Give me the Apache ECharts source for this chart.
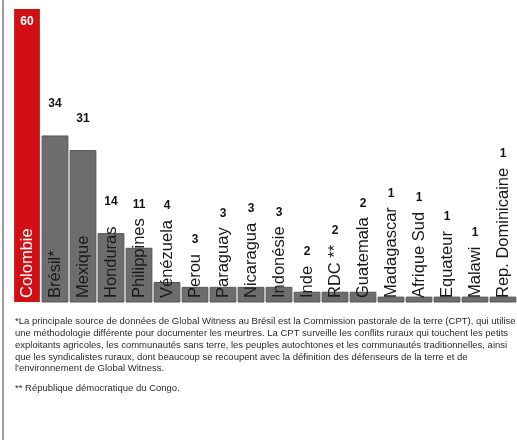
<!DOCTYPE html>
<html>
<head>
<meta charset="utf-8">
<script src="https://cdn.jsdelivr.net/npm/echarts@6/dist/echarts.min.js"></script>
<style>
  html, body { margin: 0; padding: 0; background: #fff; }
  #chart { width: 517px; height: 440px; }
</style>
</head>
<body>
<div id="chart"></div>
<script>
// Défenseurs de la terre et de l'environnement tués, par pays
const countries = [
  'Colombie', 'Brésil*', 'Mexique', 'Honduras', 'Philippines', 'Vénézuela',
  'Perou', 'Paraguay', 'Nicaragua', 'Indonésie', 'Inde', 'RDC **',
  'Guatemala', 'Madagascar', 'Afrique Sud', 'Equateur', 'Malawi', 'Rep. Dominicaine'
];
const killed = [60, 34, 31, 14, 11, 4, 3, 3, 3, 3, 2, 2, 2, 1, 1, 1, 1, 1];

const footnotes = [
  "*La principale source de données de Global Witness au Brésil est la Commission pastorale de la terre (CPT), qui utilise",
  "une méthodologie différente pour documenter les meurtres. La CPT surveille les conflits ruraux qui touchent les petits",
  "exploitants agricoles, les communautés sans terre, les peuples autochtones et les communautés traditionnelles, ainsi",
  "que les syndicalistes ruraux, dont beaucoup se recoupent avec la définition des défenseurs de la terre et de",
  "l'environnement de Global Witness."
];
const footnote2 = "** République démocratique du Congo.";

const NAME_FONT = '16.5px "Liberation Sans Narrow", "Liberation Sans", sans-serif';
const measureCtx = document.createElement('canvas').getContext('2d');
function textWidth(str, font) {
  measureCtx.font = font;
  return measureCtx.measureText(str).width;
}

const chart = echarts.init(document.getElementById('chart'), null, { renderer: 'canvas' });

function renderBar(params, api) {
  const i = api.value(0);
  const v = api.value(1);
  const top = api.coord([i, v]);
  const base = api.coord([i, 0]);
  const band = api.size([1, 0])[0];
  const w = band * 0.92;
  const isMax = i === 0;
  const name = countries[i];
  const nameW = textWidth(name, NAME_FONT);
  const nameTop = base[1] - 4 - nameW;
  let labelY, labelColor;
  if (isMax) {
    labelY = top[1] + 13;
    labelColor = '#fff';
  } else {
    // value sits above whichever is higher: the bar or its rotated name
    labelY = Math.min(top[1] - 32, nameTop - 14);
    labelColor = '#111';
  }
  return {
    type: 'group',
    children: [
      {
        type: 'rect',
        shape: { x: top[0] - w / 2, y: top[1], width: w, height: base[1] - top[1] },
        style: {
          fill: isMax ? '#d20f14' : '#6d6d6d',
          stroke: isMax ? '#c00d12' : '#555',
          lineWidth: isMax ? 0 : 1
        }
      },
      {
        type: 'text',
        x: top[0],
        y: base[1] - 4,
        rotation: Math.PI / 2,
        style: {
          text: name,
          font: NAME_FONT,
          fill: isMax ? '#fff' : '#1a1a1a',
          align: 'left',
          verticalAlign: 'middle'
        }
      },
      {
        type: 'text',
        x: top[0],
        y: labelY,
        style: {
          text: String(v),
          font: 'bold 12px "Liberation Sans", sans-serif',
          fill: labelColor,
          align: 'center',
          verticalAlign: 'middle'
        }
      }
    ]
  };
}

const noteFont = '9.5px "Liberation Sans Narrow", "Liberation Sans", sans-serif';
const graphics = [
  {
    type: 'rect',
    shape: { x: 2, y: 0, width: 2, height: 440 },
    style: { fill: '#9c9c9c' }
  }
];
footnotes.forEach(function (line, k) {
  graphics.push({
    type: 'text',
    left: 15,
    top: 316.5 + k * 11.8,
    style: { text: line, font: noteFont, fill: '#2a2a2a' }
  });
});
graphics.push({
  type: 'text',
  left: 15,
  top: 383.5,
  style: { text: footnote2, font: noteFont, fill: '#2a2a2a' }
});

chart.setOption({
  animation: false,
  backgroundColor: '#fff',
  grid: { left: 13, top: 9, width: 508, bottom: 138, containLabel: false },
  xAxis: {
    type: 'category',
    data: countries,
    show: false
  },
  yAxis: {
    type: 'value',
    min: 0,
    max: 60,
    show: false
  },
  series: [{
    type: 'custom',
    renderItem: renderBar,
    data: killed.map(function (v, i) { return [i, v]; }),
    encode: { x: 0, y: 1 },
    clip: false
  }],
  graphic: graphics
});
</script>
</body>
</html>
